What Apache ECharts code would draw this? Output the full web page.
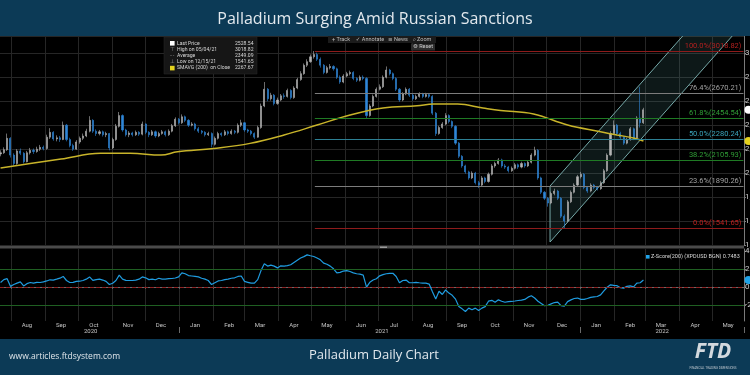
<!DOCTYPE html>
<html><head><meta charset="utf-8">
<script src="https://cdn.jsdelivr.net/npm/echarts@6/dist/echarts.min.js"></script>
<style>html,body{margin:0;padding:0;background:#000;}#c{width:750px;height:375px;}</style>
</head><body><div id="c"></div>
<script>
// ---------- categories: calendar days of the visible range ----------
const rangeStart = [2020, 6, 22], rangeEnd = [2022, 4, 29];
const days = [];
(function () {
  let t = Date.UTC(rangeStart[0], rangeStart[1], rangeStart[2]);
  const e = Date.UTC(rangeEnd[0], rangeEnd[1], rangeEnd[2]);
  while (t <= e) { days.push(new Date(t).toISOString().slice(0, 10)); t += 86400000; }
})();
const monthNames = ['Jan','Feb','Mar','Apr','May','Jun','Jul','Aug','Sep','Oct','Nov','Dec'];
const yearLabelDates = ['2020-10-12', '2021-07-04', '2022-03-16'];

// ---------- price candles, one every 3 calendar days: [open, close, low, high] ----------
const candleStepDays = 3;
const candles = [
[2160,2170,2140,2190],[2170,2195,2160,2215],[2195,2290,2185,2330],[2290,2150,2130,2300],[2150,2080,2060,2165],
[2080,2185,2070,2200],[2185,2165,2150,2205],[2165,2095,2080,2175],[2095,2170,2090,2185],[2170,2190,2155,2210],
[2190,2180,2160,2205],[2180,2200,2170,2220],[2200,2215,2185,2235],[2215,2205,2190,2230],[2205,2300,2195,2320],
[2300,2340,2285,2375],[2340,2285,2270,2350],[2285,2295,2265,2315],[2295,2280,2260,2310],[2280,2400,2275,2430],
[2400,2280,2265,2410],[2280,2230,2215,2295],[2230,2200,2185,2245],[2200,2260,2195,2275],[2260,2290,2245,2305],
[2290,2310,2275,2330],[2310,2350,2300,2370],[2350,2440,2340,2475],[2440,2350,2335,2450],[2350,2330,2310,2365],
[2330,2345,2315,2360],[2345,2320,2305,2355],[2320,2330,2300,2345],[2330,2210,2190,2335],[2210,2280,2200,2295],
[2280,2390,2270,2410],[2390,2480,2380,2510],[2480,2360,2345,2490],[2360,2320,2305,2370],[2320,2335,2300,2350],
[2335,2320,2305,2345],[2320,2340,2310,2355],[2340,2325,2310,2350],[2325,2410,2315,2430],[2410,2340,2325,2415],
[2340,2320,2300,2350],[2320,2345,2310,2360],[2345,2310,2295,2355],[2310,2330,2300,2345],[2330,2345,2320,2360],
[2345,2320,2305,2355],[2320,2350,2310,2365],[2350,2395,2340,2410],[2395,2450,2385,2465],[2450,2420,2405,2460],
[2420,2470,2410,2490],[2470,2440,2425,2480],[2440,2400,2385,2450],[2400,2410,2390,2425],[2410,2370,2355,2420],
[2370,2350,2335,2385],[2350,2340,2325,2360],[2340,2320,2305,2350],[2320,2330,2310,2345],[2330,2240,2215,2340],
[2240,2290,2230,2305],[2290,2330,2280,2345],[2330,2320,2305,2340],[2320,2345,2310,2360],[2345,2330,2315,2355],
[2330,2350,2320,2365],[2350,2340,2325,2360],[2340,2400,2330,2415],[2400,2420,2385,2445],[2420,2360,2345,2425],
[2360,2350,2335,2370],[2350,2330,2315,2360],[2330,2300,2285,2340],[2300,2380,2295,2395],[2380,2560,2370,2580],
[2560,2700,2550,2760],[2700,2620,2600,2710],[2620,2650,2605,2670],[2650,2580,2565,2660],[2580,2610,2570,2630],
[2610,2645,2600,2660],[2645,2640,2620,2665],[2640,2690,2630,2705],[2690,2630,2615,2700],[2630,2710,2620,2725],
[2710,2780,2700,2795],[2780,2830,2770,2850],[2830,2900,2820,2915],[2900,2930,2885,2950],[2930,2970,2920,2990],
[2970,2990,2955,3018.82],[2990,2950,2935,3005],[2950,2900,2880,2965],[2900,2840,2825,2910],[2840,2880,2830,2895],
[2880,2890,2865,2910],[2890,2870,2855,2900],[2870,2800,2785,2880],[2800,2760,2745,2815],[2760,2810,2750,2825],
[2810,2830,2800,2845],[2830,2840,2815,2855],[2840,2790,2775,2850],[2790,2775,2760,2800],[2775,2800,2765,2815],
[2800,2790,2775,2815],[2790,2480,2460,2800],[2480,2560,2470,2575],[2560,2640,2550,2655],[2640,2700,2630,2715],
[2700,2720,2690,2740],[2720,2800,2710,2815],[2800,2860,2790,2890],[2860,2830,2815,2870],[2830,2790,2775,2840],
[2790,2700,2685,2800],[2700,2610,2595,2710],[2610,2660,2600,2675],[2660,2700,2650,2715],[2700,2650,2635,2710],
[2650,2620,2605,2660],[2620,2640,2610,2655],[2640,2660,2630,2675],[2660,2640,2625,2670],[2640,2655,2630,2670],
[2655,2640,2625,2665],[2640,2500,2485,2650],[2500,2330,2310,2510],[2330,2380,2320,2395],[2380,2410,2370,2425],
[2410,2480,2400,2500],[2480,2430,2415,2490],[2430,2390,2375,2440],[2390,2250,2235,2400],[2250,2140,2125,2260],
[2140,2060,2045,2150],[2060,2010,1995,2070],[2010,1960,1945,2020],[1960,2000,1950,2015],[2000,1920,1905,2010],
[1920,1900,1875,1935],[1900,1960,1890,1975],[1960,1930,1915,1970],[1930,1990,1920,2005],[1990,2060,1980,2075],
[2060,2080,2045,2095],[2080,2110,2070,2125],[2110,2060,2045,2120],[2060,2050,2035,2075],[2050,2020,2005,2060],
[2020,2040,2010,2055],[2040,2070,2030,2085],[2070,2050,2035,2080],[2050,2080,2040,2095],[2080,2060,2045,2090],
[2060,2090,2050,2105],[2090,2150,2080,2165],[2150,2190,2140,2220],[2190,1960,1945,2200],[1960,1840,1825,1970],
[1840,1790,1775,1850],[1790,1750,1720,1800],[1750,1830,1740,1845],[1830,1850,1815,1870],[1850,1790,1775,1860],
[1790,1640,1625,1800],[1640,1600,1541.65,1655],[1600,1760,1590,1775],[1760,1840,1750,1855],[1840,1900,1830,1915],
[1900,1970,1890,1985],[1970,1990,1955,2010],[1990,1880,1865,2000],[1880,1850,1835,1890],[1850,1900,1840,1915],
[1900,1880,1865,1910],[1880,1870,1855,1890],[1870,1920,1860,1935],[1920,2020,1910,2035],[2020,2150,2010,2165],
[2150,2330,2140,2350],[2330,2400,2320,2440],[2400,2330,2315,2410],[2330,2300,2285,2345],[2300,2250,2235,2310],
[2250,2280,2240,2295],[2280,2370,2270,2385],[2370,2290,2275,2380],[2290,2460,2280,2475],[2460,2420,2380,2720],
[2420,2528.54,2410,2545]
];

// ---------- Z-Score(200), same dates as the candles ----------
const zScore = [
0.48,0.8,0.9,0.05,0.25,0.41,0.55,0.1,0.35,0.48,
0.4,0.5,0.48,0.55,0.65,0.78,0.75,0.85,0.96,1.15,
0.7,0.48,0.5,0.6,0.62,0.7,0.85,1.1,0.72,0.8,
0.85,0.75,0.6,0.25,0.4,0.7,1.3,0.85,0.72,0.7,
0.7,0.75,0.85,1.1,1.0,0.8,0.85,0.78,0.95,0.85,
0.85,0.9,0.92,0.98,1.1,1.55,1.45,1.25,1.2,1.15,
1.1,0.95,0.85,0.7,0.25,0.45,0.65,0.7,0.8,0.85,
0.95,1.0,1.15,1.2,0.6,0.5,0.4,0.4,0.8,1.8,
2.55,2.3,2.4,2.3,2.1,2.33,2.3,2.35,2.45,2.7,
2.95,3.2,3.35,3.55,3.45,3.37,3.2,3.0,2.63,2.5,
2.3,2.0,1.55,1.6,1.75,1.8,1.7,1.55,1.45,1.4,
1.3,-0.04,0.5,0.75,0.9,1.22,1.35,1.45,1.5,1.5,
1.15,0.45,0.7,0.75,0.45,0.45,0.5,0.45,0.41,0.4,
0.3,-0.55,-1.35,-0.5,-0.85,-0.35,-0.7,-0.95,-1.37,-2.2,
-2.45,-2.74,-2.37,-2.55,-2.37,-2.63,-2.37,-2.2,-1.6,-1.5,
-1.72,-1.45,-1.6,-1.72,-1.65,-1.63,-1.58,-1.52,-1.48,-1.4,
-1.15,-1.0,-1.25,-1.6,-1.85,-2.1,-2.05,-1.9,-1.75,-1.7,
-2.1,-2.15,-1.65,-1.45,-1.3,-1.25,-1.4,-1.4,-1.3,-1.18,
-1.12,-1.08,-0.9,-0.45,-0.05,0.22,0.15,0.12,-0.1,-0.15,
0.05,0.1,0.0,0.4,0.45,0.7483
];

// ---------- SMAVG (200) on close ----------
const smaDates = ['2020-07-22','2020-08-18','2020-09-15','2020-10-21','2020-11-17','2020-12-15','2020-12-30',
  '2021-02-01','2021-03-06','2021-04-06','2021-05-06','2021-06-05','2021-07-05','2021-08-05','2021-08-20',
  '2021-09-11','2021-10-04','2021-10-20','2021-11-19','2021-12-20','2022-01-19','2022-02-03','2022-02-18','2022-02-27'];
const smaValues = [2042,2080,2117,2165,2165,2150,2178,2206,2248,2318,2401,2485,2543,2562,2576,2576,2543,2522,2493,2401,2345,2318,2293,2267.67];

// ---------- Fibonacci retracement ----------
const fibStart = '2021-05-04';
const fibPct = ['100.0%', '76.4%', '61.8%', '50.0%', '38.2%', '23.6%', '0.0%'];
const fibValues = [3018.82, 2670.21, 2454.54, 2280.24, 2105.93, 1890.26, 1541.65];
const fibLineColors = ['#8e1b1b', '#7c7c7c', '#1f7a24', '#2d8094', '#1f7a24', '#7c7c7c', '#8e1b1b'];
const fibTextColors = ['#b3201f', '#a0a0a0', '#2f9e36', '#3aa3ba', '#2f9e36', '#a0a0a0', '#c0211f'];

// ---------- rising channel (date, lower edge, upper edge) ----------
const channelDates = ['2021-12-04', '2022-05-29'];
const channelLower = [1425, 3250];
const channelUpper = [1892, 3717];

// ---------- legend box ----------
const legendLabels = ['Last Price', 'High on 05/04/21', 'Average', 'Low on 12/15/21', 'SMAVG (200)  on Close'];
const legendValues = ['2528.54', '3018.82', '2349.09', '1541.65', '2267.67'];
const lastPrice = 2528.54, lastSma = 2267.67, lastZ = 0.7483;

const candleDates = candles.map((_, i) => days[i * candleStepDays]);
const candleRows = candles.map((c, i) => [candleDates[i], c[0], c[1], c[2], c[3]]);

const isMonthStart = (i, v) => v.slice(8) === '01';
const isMid = (i, v) => v.slice(8) === '15';
const isYearStart = (i, v) => v.slice(5) === '01-01';
const isYearLabel = (i, v) => yearLabelDates.indexOf(v) >= 0;
const FONT = 'Roboto, "DejaVu Sans", sans-serif';

const chart = echarts.init(document.getElementById('c'), null, {renderer: 'canvas'});
const fibStartIdx = days.indexOf(fibStart);
const lastIdx = days.length - 1;

const option = {
  backgroundColor: '#000000',
  animation: false,
  grid: [
    {left: 0, right: 6, top: 36, height: 209, containLabel: false, outerBoundsMode: 'none'},
    {left: 0, right: 6, top: 249, height: 72, containLabel: false, outerBoundsMode: 'none'}
  ],
  xAxis: [
    {type: 'category', gridIndex: 0, data: days, boundaryGap: true,
      axisLine: {show: false}, axisTick: {show: false}, axisLabel: {show: false},
      splitLine: {show: true, interval: isMonthStart, lineStyle: {color: '#262626', width: 1}}},
    {type: 'category', gridIndex: 1, data: days, boundaryGap: true,
      axisLine: {show: true, lineStyle: {color: '#6a6a6a', width: 1}},
      axisTick: {show: true, interval: isMonthStart, length: 2, lineStyle: {color: '#6a6a6a'}},
      axisLabel: {show: true, interval: isMid, formatter: v => monthNames[+v.slice(5, 7) - 1],
        color: '#c4c4c4', fontSize: 6, margin: 1, fontFamily: FONT},
      splitLine: {show: true, interval: isMonthStart, lineStyle: {color: '#262626', width: 1}}},
    {type: 'category', gridIndex: 1, data: days, boundaryGap: true, position: 'bottom', offset: 6,
      axisLine: {show: false},
      axisTick: {show: true, interval: isYearStart, length: 6, lineStyle: {color: '#6a6a6a'}},
      axisLabel: {show: true, interval: isYearLabel, formatter: v => v.slice(0, 4),
        color: '#c4c4c4', fontSize: 6, margin: 1, fontFamily: FONT},
      splitLine: {show: false}}
  ],
  yAxis: [
    {type: 'value', gridIndex: 0, position: 'right', min: 1400, max: 3144, interval: 200,
      axisLine: {show: true, lineStyle: {color: '#7a7a7a'}},
      axisTick: {show: true, length: 2, lineStyle: {color: '#7a7a7a'}},
      axisLabel: {color: '#cccccc', fontSize: 8, margin: 1, showMaxLabel: false, fontFamily: FONT},
      splitLine: {show: true, lineStyle: {color: '#262626', width: 1}}},
    {type: 'value', gridIndex: 1, position: 'right', min: -3.8, max: 4.2,
      axisLine: {show: true, lineStyle: {color: '#7a7a7a'}},
      axisTick: {show: true, length: 2, lineStyle: {color: '#7a7a7a'}},
      axisLabel: {color: '#cccccc', fontSize: 8, margin: 1, showMaxLabel: false, showMinLabel: false, fontFamily: FONT},
      splitLine: {show: false}}
  ],
  series: [
    {type: 'custom', xAxisIndex: 0, yAxisIndex: 0, z: 1, silent: true,
      data: [[days.indexOf(channelDates[0]), channelLower[0]]],
      renderItem: function (params, api) {
        const i0 = days.indexOf(channelDates[0]), i1 = days.indexOf(channelDates[1]);
        const pts = [api.coord([i0, channelLower[0]]), api.coord([i1, channelLower[1]]),
                     api.coord([i1, channelUpper[1]]), api.coord([i0, channelUpper[0]])];
        const cs = params.coordSys;
        return {type: 'polygon', shape: {points: pts},
          style: {fill: 'rgba(80,150,150,0.16)', stroke: '#76a9a9', lineWidth: 1},
          clipPath: {type: 'rect', shape: {x: cs.x, y: cs.y, width: cs.width, height: cs.height}}};
      }},
    {type: 'candlestick', name: 'Last Price', xAxisIndex: 0, yAxisIndex: 0, z: 3,
      data: candleRows, encode: {x: 0, y: [1, 2, 3, 4]}, barWidth: 1.6,
      itemStyle: {color: '#b4b4b4', color0: '#2f86d8', borderColor: '#b4b4b4', borderColor0: '#2f86d8', borderWidth: 0.6},
      markLine: {silent: true, symbol: ['none', 'none'], animation: false,
        data: fibValues.map((v, k) => [
          {coord: [fibStartIdx, v], lineStyle: {color: fibLineColors[k], width: 1, type: 'solid'},
            label: {show: true, position: 'insideEndTop', formatter: fibPct[k] + '(' + v.toFixed(2) + ')',
              color: fibTextColors[k], fontSize: 7.5, fontFamily: FONT, distance: [2, 1]}},
          {coord: [lastIdx, v]}
        ])}},
    {type: 'line', name: 'SMAVG (200)', xAxisIndex: 0, yAxisIndex: 0, z: 4,
      data: smaDates.map((d, i) => [d, smaValues[i]]), showSymbol: false, smooth: 0.4,
      lineStyle: {color: '#c8b42a', width: 1.5}},
    {type: 'line', name: 'Z-Score', xAxisIndex: 1, yAxisIndex: 1, z: 4,
      data: candleDates.map((d, i) => [d, zScore[i]]), showSymbol: false,
      lineStyle: {color: '#1f9ce0', width: 1.2},
      markLine: {silent: true, symbol: ['none', 'none'], animation: false, label: {show: false},
        data: [
          {yAxis: 2, lineStyle: {color: '#1f5f22', type: 'solid', width: 1}},
          {yAxis: -2, lineStyle: {color: '#1f5f22', type: 'solid', width: 1}},
          {yAxis: 0, lineStyle: {color: '#8e2222', type: 'dashed', width: 1}}
        ]}}
  ]
};
chart.setOption(option);

const py = v => chart.convertToPixel({yAxisIndex: 0}, v);
const pz = v => chart.convertToPixel({yAxisIndex: 1}, v);
const small = (text, x, y, fill, align, size) => ({type: 'text', silent: true, z: 20,
  style: {text: text, x: x, y: y, fill: fill || '#d8d8d8', fontSize: size || 5.5, fontFamily: FONT, align: align || 'left', verticalAlign: 'middle'}});

const g = [];
// title and bottom banners
g.push({type: 'rect', z: 10, shape: {x: 0, y: 0, width: 750, height: 36}, style: {fill: '#0c3a56'}});
g.push({type: 'text', z: 11, style: {text: 'Palladium Surging Amid Russian Sanctions', x: 375, y: 19, fill: '#e3e9ee',
  fontSize: 16, fontFamily: '"Open Sans", Lato, sans-serif', align: 'center', verticalAlign: 'middle'}});
g.push({type: 'rect', z: 10, shape: {x: 0, y: 339, width: 750, height: 36}, style: {fill: '#0c3a56'}});
g.push({type: 'text', z: 11, style: {text: 'www.articles.ftdsystem.com', x: 9, y: 357, fill: '#dfe5ea',
  fontSize: 8.5, fontFamily: '"Open Sans", sans-serif', align: 'left', verticalAlign: 'middle'}});
g.push({type: 'text', z: 11, style: {text: 'Palladium Daily Chart', x: 374, y: 355, fill: '#e3e9ee',
  fontSize: 13, fontFamily: '"Open Sans", sans-serif', align: 'center', verticalAlign: 'middle'}});
g.push({type: 'text', z: 11, style: {text: 'FTD', x: 713, y: 352, fill: '#d3d9de',
  fontSize: 21, fontWeight: 'bold', fontStyle: 'italic', fontFamily: '"Open Sans", sans-serif', align: 'center', verticalAlign: 'middle'}});
g.push({type: 'text', z: 11, style: {text: 'FINANCIAL TRADING DIMENSIONS', x: 713, y: 368, fill: '#b8c2ca',
  fontSize: 3, fontFamily: FONT, align: 'center', verticalAlign: 'middle'}});
// panel separator
g.push({type: 'rect', z: 9, shape: {x: 0, y: 246, width: 744, height: 2.5}, style: {fill: '#4a4a4a'}});
g.push({type: 'rect', z: 9, shape: {x: 380, y: 246.5, width: 7, height: 1.5}, style: {fill: '#9a9a9a'}});
// legend box
g.push({type: 'rect', z: 15, shape: {x: 164, y: 37, width: 93, height: 37}, style: {fill: '#161616', stroke: '#2a2a2a', lineWidth: 0.5}});
const rowY = [43.3, 49.5, 55.7, 61.9, 68.1];
g.push({type: 'rect', z: 20, shape: {x: 170, y: rowY[0] - 2.3, width: 4.6, height: 4.6}, style: {fill: '#ffffff'}});
g.push({type: 'rect', z: 20, shape: {x: 170, y: rowY[4] - 2.3, width: 4.6, height: 4.6}, style: {fill: '#e3d21e'}});
g.push(small('\u22A4', 172.3, rowY[1], '#9a9a9a', 'center'));
g.push(small('-\u2009-', 172.3, rowY[2], '#9a9a9a', 'center'));
g.push(small('\u22A5', 172.3, rowY[3], '#9a9a9a', 'center'));
legendLabels.forEach((t, k) => { g.push(small(t, 177, rowY[k], '#d8d8d8', 'left', 5.1)); g.push(small(legendValues[k], 235, rowY[k], '#d8d8d8', 'left', 5.1)); });
// toolbar
g.push({type: 'rect', z: 15, shape: {x: 328, y: 36, width: 108, height: 7}, style: {fill: '#1b1b1b'}});
g.push(small('+ Track', 341, 39.5, '#bdbdbd', 'center'));
g.push(small('\u2713 Annotate', 370, 39.5, '#bdbdbd', 'center'));
g.push(small('\u2261 News', 398, 39.5, '#bdbdbd', 'center'));
g.push(small('\u2315 Zoom', 422, 39.5, '#bdbdbd', 'center'));
g.push({type: 'rect', z: 15, shape: {x: 411, y: 43.5, width: 24, height: 7}, style: {fill: '#2c2c2c'}});
g.push(small('\u2699 Reset', 423, 47, '#d0d0d0', 'center'));
// z-score legend
g.push({type: 'rect', z: 20, shape: {x: 646, y: 255, width: 3.6, height: 3.6}, style: {fill: '#1fa3e8'}});
g.push(small('Z-Score(200) (XPDUSD BGN) 0.7483', 651, 257, '#d8d8d8'));
// last-value tags on the right axis
g.push({type: 'circle', z: 20, shape: {cx: 748.5, cy: py(lastPrice), r: 4}, style: {fill: '#ffffff'}});
g.push({type: 'circle', z: 20, shape: {cx: 748.5, cy: py(lastSma), r: 4}, style: {fill: '#e6d21c'}});
g.push({type: 'circle', z: 20, shape: {cx: 748.5, cy: pz(lastZ), r: 4}, style: {fill: '#1fa3e8'}});

chart.setOption({graphic: g});
</script></body></html>
